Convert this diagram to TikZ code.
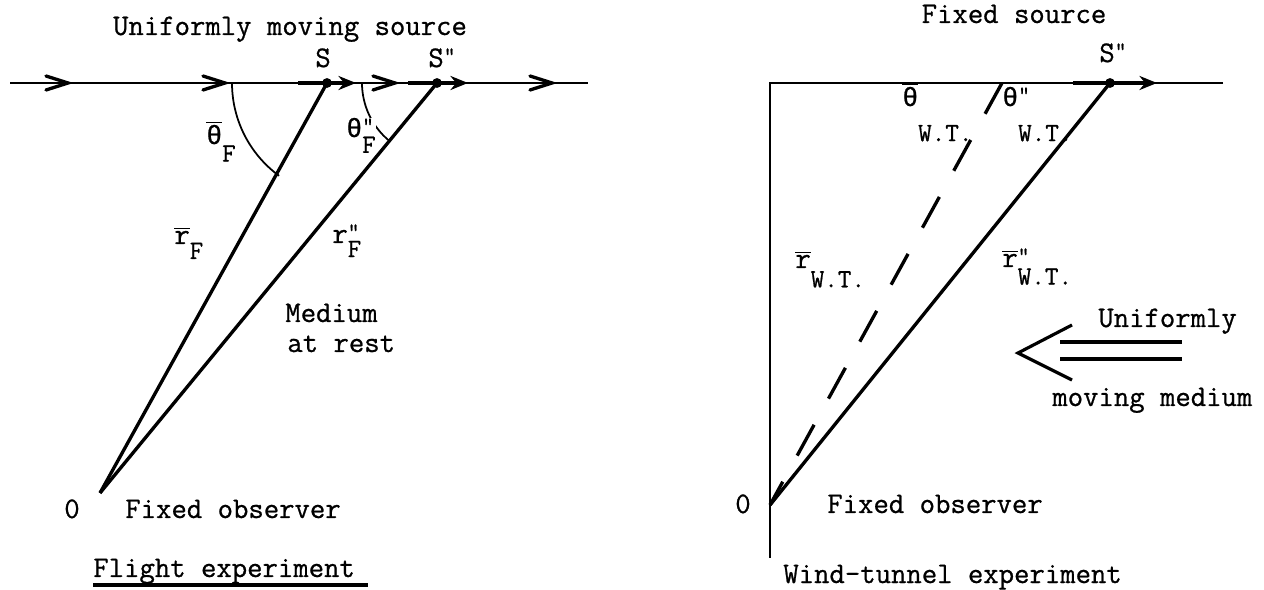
\documentclass[tikz,border=0pt]{standalone}
\usepackage{fontspec}
\newfontfamily\thfont{Liberation Mono}[FakeBold=0.8]
\newfontfamily\twfont{Latin Modern Mono}[FakeBold=0.8]
\usetikzlibrary{arrows.meta}
\newcommand{\bartxt}[1]{$\overline{\hbox{#1}}$}
\newcommand{\mytheta}{{\thfont\fontsize{15}{18}\selectfont θ}}
\newcommand{\subsz}{\fontsize{15}{16}\selectfont}
\newcommand{\supsz}{\fontsize{13}{14}\selectfont}
% base, superscript, subscript, drop
\newcommand{\mylab}[4]{#1\rlap{\raisebox{2.5pt}{\supsz #2}}\raisebox{-#4}{\subsz #3}}
\begin{document}
\begin{tikzpicture}[x=0.02cm,y=-0.02cm,font=\twfont\fontsize{17}{20}\selectfont,
  thinline/.style={line width=0.9pt},
  ray/.style={line width=1.9pt},
  chev/.style={line width=1.9pt,line cap=round},
  anglearc/.style={line width=1pt},
  lab/.style={inner sep=0pt,anchor=base west},
  ctr/.style={inner sep=0pt,anchor=base},
  dot/.style={circle,fill,inner sep=0pt,minimum size=5.6pt},
  head/.style={-{Stealth[length=10pt,width=8pt]}}]
\useasboundingbox (0,0) rectangle (1264,590);

% ---------- left: flight experiment ----------
\coordinate (L0) at (10,83);
\coordinate (L1) at (588,83);
\coordinate (S) at (327,83);
\coordinate (S2) at (437,83);
\coordinate (O) at (100,493);
\draw[thinline] (L0) -- (L1);
\foreach \x in {68,225,395,552}
  \draw[chev] (\x-22,76) -- (\x,83) -- (\x-22,90);
\draw[ray,head] (298,83) -- (356,83);
\draw[ray,head] (408,83) -- (468,83);
\draw[ray] (S) -- (O);
\draw[ray] (S2) -- (O);
\node[dot] (Sdot) at (S) {};
\node[dot] (S2dot) at (S2) {};
\draw[anglearc] (232,83) arc[start angle=180,end angle=126.2,radius=115];
\draw[anglearc] (362,83) arc[start angle=180,end angle=129.8,radius=75];

\node[ctr] (title1) at (290,35) {Uniformly moving source};
\node[lab] (Slab) at (315,67) {S};
\node[lab] (S2lab) at (428,67) {\mylab{S}{"}{}{0pt}};
\node[lab] (thbarF) at (206,144) {\mylab{\bartxt{\mytheta}}{}{F}{10pt}};
\node[lab,fill=white] (thppF) at (346,137) {\mylab{\mytheta}{"}{F}{9pt}};
\node[lab] (rbarF) at (174,244) {\mylab{\bartxt{r}}{}{F}{8.5pt}};
\node[lab] (rppF) at (332,243) {\mylab{r}{"}{F}{8pt}};
\node[lab] (medium) at (285,322) {Medium};
\node[lab] (atrest) at (287,352) {at rest};
\node[ctr] (O1) at (72,518) {0};
\node[lab] (fo1) at (125,518) {Fixed observer};
\node[lab] (flight) at (93,577) {Flight experiment};
\draw[line width=1.8pt] (93,585) -- (368,585);

% ---------- right: wind-tunnel experiment ----------
\coordinate (C) at (770,83);
\coordinate (R1) at (1223,83);
\coordinate (RB) at (770,558);
\coordinate (RS) at (1110,83);
\coordinate (RO) at (770,505);
\coordinate (D) at (1002,83);
\draw[thinline] (R1) -- (C) -- (RB);
\draw[ray,head] (1073,83) -- (1157,83);
\draw[ray] (RS) -- (RO);
\draw[ray,dash pattern=on 20pt off 17pt] (D) -- (RO);
\node[dot] (RSdot) at (RS) {};

\node[ctr] (title2) at (1014,23) {Fixed source};
\node[lab] (RSlab) at (1099,62) {\mylab{S}{"}{}{0pt}};
\node[lab] (thbarWT) at (902,106) {\mylab{\bartxt{\mytheta}}{}{W.T.}{20pt}};
\node[lab] (thppWT) at (1002,106) {\mylab{\mytheta}{"}{W.T.}{20pt}};
\node[lab] (rbarWT) at (795,268) {\mylab{\bartxt{r}}{}{W.T.}{11pt}};
\node[lab] (rppWT) at (1002,267) {\mylab{\bartxt{r}}{"}{W.T.}{10pt}};

\coordinate (Mtip) at (1018,353);
\draw[line width=1.8pt] (1072,325) -- (Mtip) -- (1072,380);
\draw[line width=1.8pt] (1060,342) -- (1182,342);
\draw[line width=1.8pt] (1060,359) -- (1182,359);
\node[lab] (unif) at (1098,327) {Uniformly};
\node[lab] (movmed) at (1052,406) {moving medium};

\node[ctr] (O2) at (743,513) {0};
\node[lab] (fo2) at (827,513) {Fixed observer};
\node[lab] (wind) at (783,583) {Wind-tunnel experiment};
\end{tikzpicture}
\end{document}
